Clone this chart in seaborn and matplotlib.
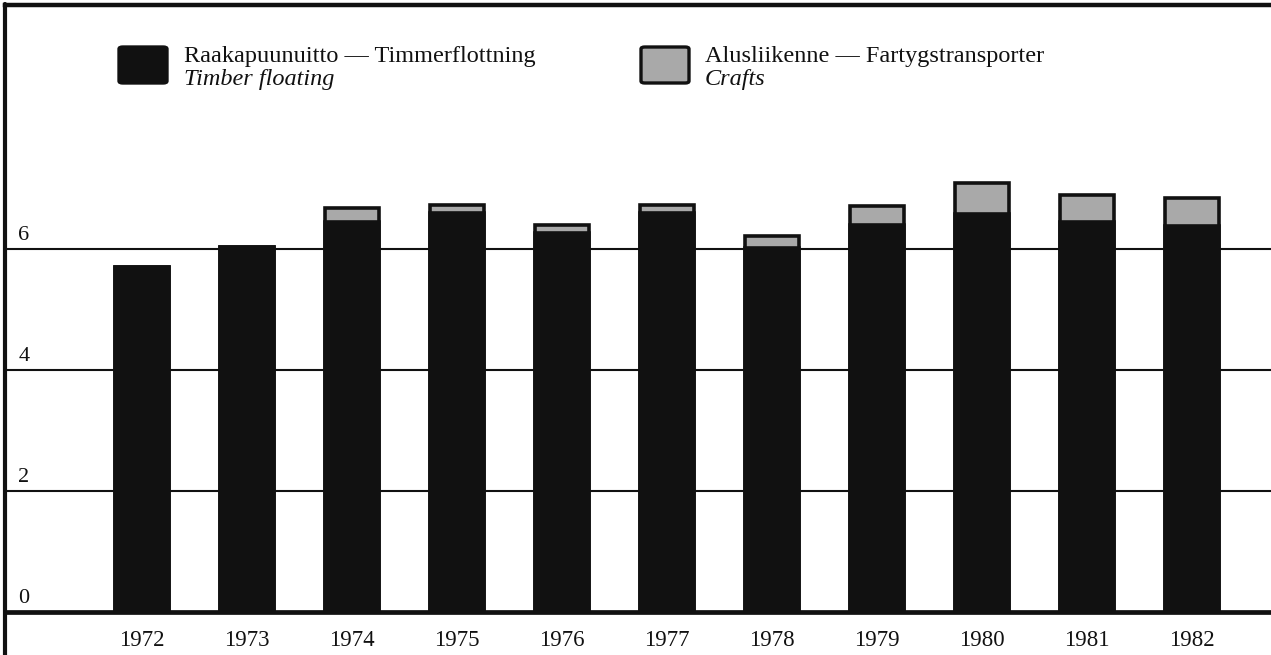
import matplotlib
matplotlib.use("Agg")
import matplotlib.pyplot as plt
from matplotlib.patches import FancyBboxPatch
from matplotlib.lines import Line2D
import matplotlib.transforms as mtransforms
import numpy as np
import pandas as pd
import seaborn as sns

# values (million tonnes-ish, units not shown)
years = ["1972", "1973", "1974", "1975", "1976", "1977",
         "1978", "1979", "1980", "1981", "1982"]
timber = [5.71, 6.03, 6.45, 6.60, 6.27, 6.60, 6.02, 6.40, 6.58, 6.44, 6.38]
crafts = [0.00, 0.00, 0.22, 0.13, 0.13, 0.13, 0.20, 0.31, 0.51, 0.46, 0.46]
ytick_vals = [0, 2, 4, 6]

legend_labels = ["Raakapuunuitto \u2014 Timmerflottning",
                 "Alusliikenne \u2014 Fartygstransporter"]
legend_labels_en = ["Timber floating", "Crafts"]

BLACK = "#111111"
GREY = "#a9a9a9"

W, H = 1271, 655

df = pd.DataFrame({"year": years, "timber": timber, "crafts": crafts})
df["total"] = df["timber"] + df["crafts"]

sns.set_theme(style="white")
plt.rcParams["font.family"] = ["Liberation Serif", "DejaVu Serif"]

fig = plt.figure(figsize=(W / 100, H / 100), dpi=100)
ax = fig.add_axes([5 / W, 1 - 612 / H, 1 - 5 / W, (612 - 5) / H])


def fx(px):
    return px / W


def fy(py):
    return 1 - py / H


# gridlines behind bars
for v in ytick_vals[1:]:
    ax.axhline(v, color=BLACK, lw=1.5, zorder=0)

# totals in grey, then timber part in black on top
sns.barplot(data=df, x="year", y="total", color=GREY, saturation=1,
            width=0.515, edgecolor=BLACK, linewidth=2.6, ax=ax, zorder=2)
sns.barplot(data=df, x="year", y="timber", color=BLACK, saturation=1,
            width=0.515, edgecolor=BLACK, linewidth=2.6, ax=ax, zorder=3)

# baseline, not clipped so it keeps its full width
ax.axhline(0, color=BLACK, lw=3.4, zorder=4, clip_on=False)

ax.set_xlim(-1.305, 10.75)
ax.set_ylim(0, (612 - 5) / 60.5)
ax.set_xlabel("")
ax.set_ylabel("")
ax.set_yticks([])
ax.tick_params(axis="x", length=0, pad=13, labelsize=16.5, colors=BLACK)

for s in ["right", "bottom"]:
    ax.spines[s].set_visible(False)
ax.spines["top"].set_linewidth(3.2)
ax.spines["top"].set_color(BLACK)
ax.spines["left"].set_visible(False)

# left frame line runs to the bottom of the page
fig.add_artist(Line2D([fx(5), fx(5)], [0, fy(4)], color=BLACK, lw=3.0))

# y labels sit just above their gridlines
trans = mtransforms.blended_transform_factory(ax.transAxes, ax.transData)
for v in ytick_vals:
    ax.annotate(str(v), xy=(0, v), xycoords=trans, xytext=(9.5, 6.5),
                textcoords="offset points", ha="left", va="baseline",
                fontsize=16, color=BLACK)

# legend drawn by hand: swatch + two-line label (second line italic)
swatches = [(117, BLACK), (639, GREY)]
text_x = [184, 705]
for (x0, col), tx, lab, lab_en in zip(swatches, text_x, legend_labels, legend_labels_en):
    box = FancyBboxPatch((fx(x0 + 2), fy(83)), fx(48), (40 - 4) / H,
                         boxstyle="round,pad=0,rounding_size=0.003",
                         transform=fig.transFigure, facecolor=col,
                         edgecolor=BLACK, linewidth=2.4)
    fig.add_artist(box)
    fig.text(fx(tx), fy(62), lab, ha="left", va="baseline",
             fontsize=17.5, color=BLACK)
    fig.text(fx(tx), fy(85), lab_en, ha="left", va="baseline",
             fontsize=17.5, style="italic", color=BLACK)

fig.savefig("out.png", dpi=100)
